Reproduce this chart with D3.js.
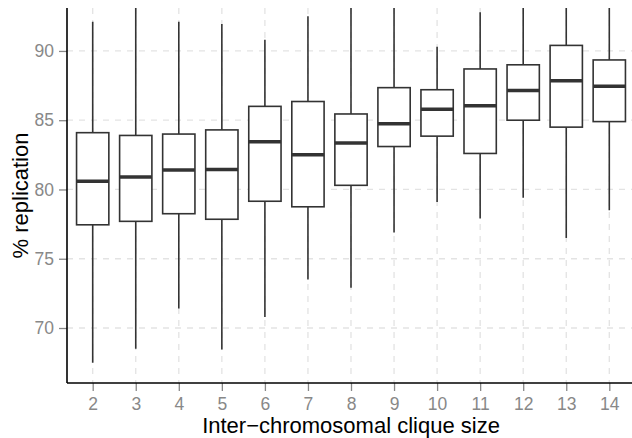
<!DOCTYPE html>
<html>
<head>
<meta charset="utf-8">
<script src="https://cdn.jsdelivr.net/npm/d3@7"></script>
<style>
  body { margin: 0; background: #fff; }
  text { font-family: "Liberation Sans", Arial, sans-serif; }
</style>
</head>
<body>
<div class="chart"></div>
<script>
// clique sizes and box stats
var sizes = ["2", "3", "4", "5", "6", "7", "8", "9", "10", "11", "12", "13", "14"];
var whiskLow = [67.5, 68.5, 71.4, 68.45, 70.8, 73.5, 72.9, 76.9, 79.1, 77.9, 79.4, 76.5, 78.5];
var q1 = [77.45, 77.7, 78.25, 77.85, 79.15, 78.75, 80.3, 83.1, 83.85, 82.6, 85.0, 84.5, 84.9];
var medians = [80.6, 80.9, 81.4, 81.45, 83.45, 82.5, 83.35, 84.75, 85.8, 86.05, 87.15, 87.85, 87.45];
var q3 = [84.1, 83.9, 84.0, 84.3, 86.0, 86.35, 85.45, 87.35, 87.2, 88.7, 89.0, 90.4, 89.35];
var whiskHigh = [92.1, 94, 92.1, 91.95, 90.8, 92.5, 94, 94, 90.3, 92.8, 94, 94, 94];
var yTicks = [70, 75, 80, 85, 90];

var svgWidth = 632;
var svgHeight = 438;

var margin = { top: 8, right: 0, bottom: 55, left: 67 };
var height = svgHeight - margin.top - margin.bottom;

var svg = d3.select(".chart")
  .append("svg")
  .attr("width", svgWidth)
  .attr("height", svgHeight);

var boxes = sizes.map(function(s, i) {
  return { size: s, lo: whiskLow[i], q1: q1[i], med: medians[i], q3: q3[i], hi: whiskHigh[i] };
});

// discrete x scale, ggplot style padding of 0.6 step each side
var xScale = d3.scalePoint()
  .domain(sizes)
  .range([92.7, 609.3]);

var step = xScale.step();
var boxW = step * 0.75;

var yScale = d3.scaleLinear()
  .domain([66.03, 93.1])
  .range([margin.top + height, margin.top]);

svg.append("defs").append("clipPath")
  .attr("id", "panel")
  .append("rect")
  .attr("x", margin.left)
  .attr("y", margin.top)
  .attr("width", svgWidth - margin.left)
  .attr("height", height);

// grid
var grid = svg.append("g");
grid.selectAll(".hgrid")
  .data(yTicks)
  .enter()
  .append("line")
  .attr("x1", margin.left)
  .attr("x2", svgWidth)
  .attr("y1", d => yScale(d))
  .attr("y2", d => yScale(d))
  .attr("stroke", "#e3e3e3")
  .attr("stroke-width", 1.3)
  .attr("stroke-dasharray", "6,6");

grid.selectAll(".vgrid")
  .data(sizes)
  .enter()
  .append("line")
  .attr("x1", d => xScale(d))
  .attr("x2", d => xScale(d))
  .attr("y1", margin.top)
  .attr("y2", margin.top + height)
  .attr("stroke", "#e3e3e3")
  .attr("stroke-width", 1.3)
  .attr("stroke-dasharray", "6,6");

// boxes
var boxG = svg.append("g").attr("clip-path", "url(#panel)");

var groups = boxG.selectAll("g")
  .data(boxes)
  .enter()
  .append("g");

groups.append("line")
  .attr("x1", d => xScale(d.size))
  .attr("x2", d => xScale(d.size))
  .attr("y1", d => yScale(d.hi))
  .attr("y2", d => yScale(d.lo))
  .attr("stroke", "#333")
  .attr("stroke-width", 1.6);

groups.append("rect")
  .attr("x", d => xScale(d.size) - boxW / 2)
  .attr("y", d => yScale(d.q3))
  .attr("width", boxW)
  .attr("height", d => yScale(d.q1) - yScale(d.q3))
  .attr("fill", "#fff")
  .attr("stroke", "#333")
  .attr("stroke-width", 1.6);

groups.append("line")
  .attr("x1", d => xScale(d.size) - boxW / 2)
  .attr("x2", d => xScale(d.size) + boxW / 2)
  .attr("y1", d => yScale(d.med))
  .attr("y2", d => yScale(d.med))
  .attr("stroke", "#333")
  .attr("stroke-width", 3.5);

// axes
var bottomAxis = d3.axisBottom(xScale).tickSize(8).tickPadding(7);
var leftAxis = d3.axisLeft(yScale).tickValues(yTicks).tickSize(8).tickPadding(5);

var xAxisG = svg.append("g")
  .attr("transform", `translate(0, ${margin.top + height})`)
  .call(bottomAxis);

var yAxisG = svg.append("g")
  .attr("transform", `translate(${margin.left}, 0)`)
  .call(leftAxis);

[xAxisG, yAxisG].forEach(function(g) {
  g.select(".domain").remove();
  g.selectAll(".tick line").attr("stroke", "#888").attr("stroke-width", 1.3);
  g.selectAll(".tick text")
    .attr("fill", "#888")
    .style("font-size", "17.5px")
    .style("font-family", "'Liberation Sans', Arial, sans-serif");
});

svg.append("line")
  .attr("x1", margin.left)
  .attr("x2", svgWidth)
  .attr("y1", margin.top + height)
  .attr("y2", margin.top + height)
  .attr("stroke", "#000")
  .attr("stroke-width", 1.6);

svg.append("line")
  .attr("x1", margin.left)
  .attr("x2", margin.left)
  .attr("y1", margin.top)
  .attr("y2", margin.top + height)
  .attr("stroke", "#000")
  .attr("stroke-width", 1.6);

// axis labels
svg.append("text")
  .attr("x", 351)
  .attr("y", 433)
  .attr("text-anchor", "middle")
  .style("font-size", "22px")
  .attr("fill", "#000")
  .text("Inter\u2212chromosomal clique size");

svg.append("text")
  .attr("transform", `translate(28, ${margin.top + height / 2}) rotate(-90)`)
  .attr("text-anchor", "middle")
  .style("font-size", "22px")
  .attr("fill", "#000")
  .text("% replication");
</script>
</body>
</html>
